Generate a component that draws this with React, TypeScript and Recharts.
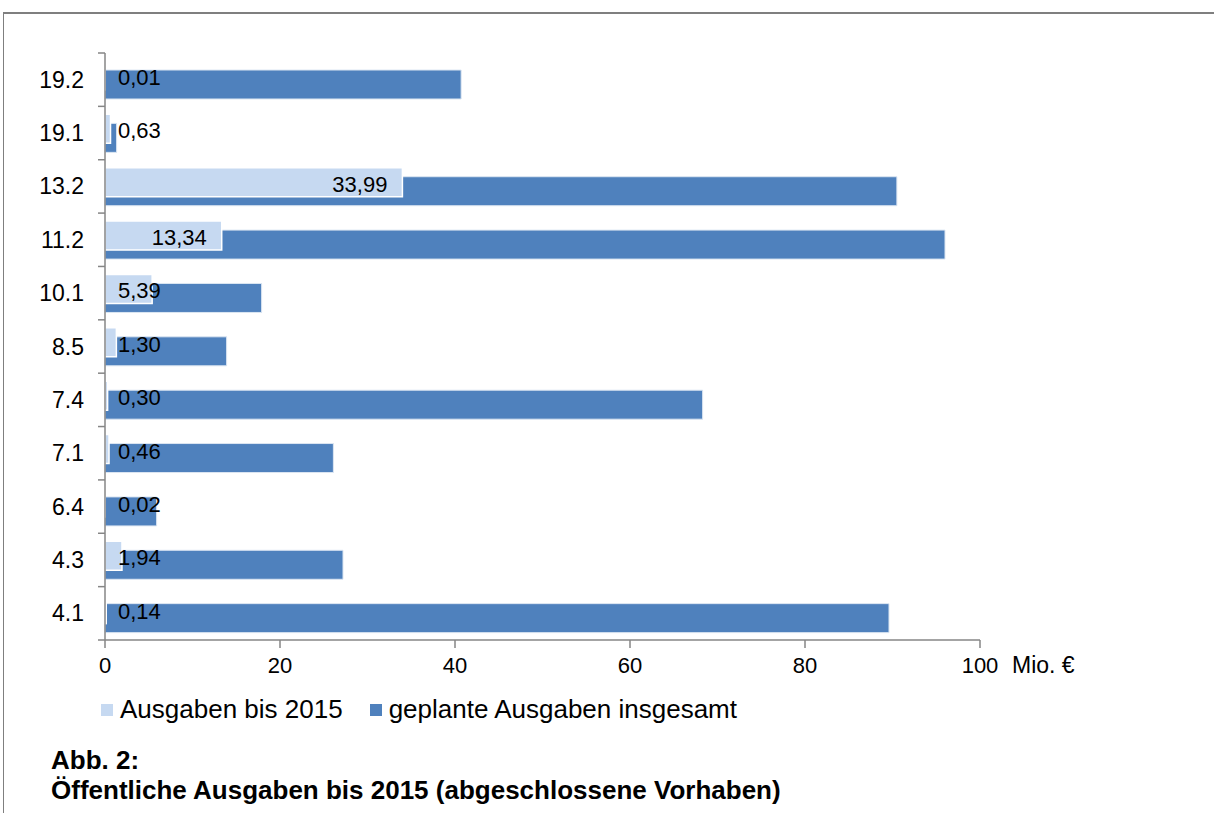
import React from "react";
import { BarChart, Bar, XAxis, YAxis, Legend, LabelList, Label } from "recharts";

const categories = ["19.2", "19.1", "13.2", "11.2", "10.1", "8.5", "7.4", "7.1", "6.4", "4.3", "4.1"];
const spentTo2015 = [0.01, 0.63, 33.99, 13.34, 5.39, 1.3, 0.3, 0.46, 0.02, 1.94, 0.14];
const plannedTotal = [40.7, 1.33, 90.5, 96.0, 17.9, 13.9, 68.3, 26.1, 5.9, 27.2, 89.6];
const xTicks = [0, 20, 40, 60, 80, 100];
const legendOrder = ["Ausgaben bis 2015", "geplante Ausgaben insgesamt"];

const LIGHT = "#c6d9f1";
const DARK = "#4f81bd";
const AXIS = "#868686";
const FONT = '"Liberation Sans", Arial, sans-serif';

const data = categories.map((name, i) => ({
  name,
  spent: spentTo2015[i],
  planned: plannedTotal[i],
}));

const fmt = (v: number) => v.toFixed(2).replace(".", ",");

// y axis: label in the band centre, tick marks on the band edges (Excel style)
function CategoryTick(props: any) {
  const { x, y, payload, index, visibleTicksCount } = props;
  const half = payload?.offset || 26.7;
  const axisX = x + 14 + 7;
  const last = index === visibleTicksCount - 1;
  return (
    <g>
      <line x1={axisX - 7} x2={axisX} y1={y - half} y2={y - half} stroke={AXIS} strokeWidth={1.5} />
      {last && (
        <line x1={axisX - 7} x2={axisX} y1={y + half} y2={y + half} stroke={AXIS} strokeWidth={1.5} />
      )}
      <text x={x} y={y} textAnchor="end" dominantBaseline="central" fontSize={23} fontFamily={FONT} fill="#000">
        {payload.value}
      </text>
    </g>
  );
}

function ValueLabel(props: any) {
  const box = props.viewBox ?? props;
  const { x, y, width, height } = box;
  const s = fmt(Number(props.value));
  const fs = 22;
  const digits = s.replace(",", "").length;
  const textW = fs * (digits * 0.556 + 0.278);
  const right = Math.max(x + width - 15, x + 13 + textW);
  return (
    <text x={right} y={y + height / 2 + 2} textAnchor="end" dominantBaseline="central" fontSize={fs} fontFamily={FONT} fill="#000">
      {s}
    </text>
  );
}

function LegendContent(props: any) {
  const items = (props.payload || [])
    .slice()
    .sort((a: any, b: any) => legendOrder.indexOf(a.value) - legendOrder.indexOf(b.value));
  return (
    <div style={{ display: "flex", alignItems: "center", fontFamily: FONT, fontSize: 26, color: "#000", whiteSpace: "nowrap" }}>
      {items.map((it: any) => (
        <div key={it.value} style={{ display: "flex", alignItems: "center", marginRight: 27 }}>
          <span style={{ display: "inline-block", width: 12, height: 12, background: it.color, marginRight: 7 }} />
          <span>{it.value}</span>
        </div>
      ))}
    </div>
  );
}

export default function App() {
  return (
    <div style={{ position: "absolute", left: 0, top: 0, width: 1214, height: 813, background: "#fff", fontFamily: FONT }}>
      <div style={{ position: "absolute", left: 3, top: 12, right: 0, bottom: 0, borderTop: "2px solid #7f7f7f", borderLeft: "1.5px solid #7f7f7f" }} />
      <BarChart
        width={1214}
        height={813}
        data={data}
        layout="vertical"
        margin={{ top: 53, right: 234, bottom: 123, left: 45 }}
        barSize={29}
        barGap={-38}
      >
        <XAxis
          type="number"
          domain={[0, 100]}
          ticks={xTicks}
          height={50}
          tickSize={8}
          tickMargin={9}
          axisLine={{ stroke: AXIS, strokeWidth: 1.5 }}
          tickLine={{ stroke: AXIS, strokeWidth: 1.5 }}
          tick={{ fontSize: 22, fill: "#000", fontFamily: FONT }}
        >
          <Label value="Mio. €" position="right" offset={32} style={{ fontSize: 23, fill: "#000", fontFamily: FONT }} />
        </XAxis>
        <YAxis
          type="category"
          dataKey="name"
          width={60}
          tickSize={7}
          tickMargin={14}
          tickLine={false}
          axisLine={{ stroke: AXIS, strokeWidth: 1.5 }}
          tick={<CategoryTick />}
          interval={0}
        />
        <Legend
          layout="horizontal"
          verticalAlign="middle"
          align="center"
          content={<LegendContent />}
          wrapperStyle={{ left: 101, top: 694, width: "auto" }}
        />
        <Bar dataKey="planned" name="geplante Ausgaben insgesamt" fill={DARK} stroke="#dce6f2" strokeWidth={1} isAnimationActive={false} />
        <Bar dataKey="spent" name="Ausgaben bis 2015" fill={LIGHT} stroke="#ffffff" strokeWidth={1.5} isAnimationActive={false}>
          <LabelList dataKey="spent" content={<ValueLabel />} />
        </Bar>
      </BarChart>
      <div style={{ position: "absolute", left: 51, top: 745, fontSize: 26, fontWeight: "bold", lineHeight: "30px", color: "#000" }}>
        <div>Abb. 2:</div>
        <div>Öffentliche Ausgaben bis 2015 (abgeschlossene Vorhaben)</div>
      </div>
    </div>
  );
}
